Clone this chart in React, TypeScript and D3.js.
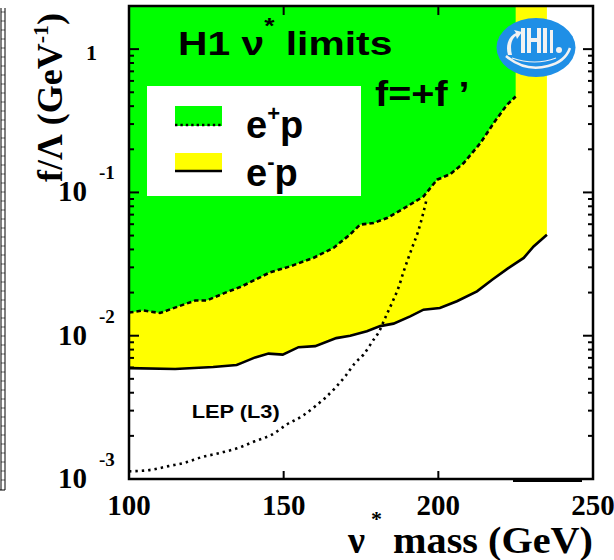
import React from "react";
import * as d3 from "d3";

// ---------- data ----------
const ePlusMass = [100, 104.6, 110, 115.9, 121.4, 125.1, 131, 136.5, 140.8, 145.6, 152.1, 159.6, 166.1, 171.4, 174.7, 179.1, 183.4, 189.9, 195.2, 199.6, 203.9, 208.2, 213.6, 217.9, 222.2, 225];
const ePlusLimit = [0.0145, 0.015, 0.0144, 0.016, 0.0176, 0.0176, 0.0199, 0.0221, 0.0246, 0.0277, 0.0305, 0.0349, 0.041, 0.0507, 0.0596, 0.0612, 0.0663, 0.0798, 0.0937, 0.1227, 0.1344, 0.1602, 0.221, 0.305, 0.409, 0.467];

const eMinusMass = [100, 114.9, 127.2, 134.8, 136.5, 140.8, 145.1, 149.7, 154.8, 160.2, 167, 171.5, 176.9, 181.2, 185.5, 190.9, 195.2, 200.5, 206, 212.5, 217.4, 222.5, 227.6, 230.8, 235.1];
const eMinusLimit = [0.00594, 0.00586, 0.00605, 0.00624, 0.00646, 0.00706, 0.0075, 0.00738, 0.00832, 0.00846, 0.00962, 0.01, 0.01074, 0.01167, 0.01214, 0.01365, 0.0152, 0.0156, 0.0174, 0.0204, 0.0246, 0.0295, 0.0349, 0.042, 0.0507];

const lepMass = [100, 107.3, 112.7, 118.1, 123.5, 129.4, 135.4, 140.8, 146.2, 151, 155.9, 160.2, 163.4, 166.7, 169.9, 173.1, 175.8, 179.1, 180.6, 182.8, 185, 187.1, 188.8, 191.5, 193.4, 195, 196.3];
const lepLimit = [0.00113, 0.00116, 0.00123, 0.0013, 0.00142, 0.00152, 0.00165, 0.00184, 0.00204, 0.0024, 0.00274, 0.00322, 0.00368, 0.00433, 0.00521, 0.00646, 0.00738, 0.0094, 0.01045, 0.0133, 0.0169, 0.0216, 0.0281, 0.041, 0.053, 0.07, 0.0914];

const xTicks = [100, 150, 200, 250];
const yMajorTicks = [0.001, 0.01, 0.1, 1];
const yTickExps = ["-3", "-2", "-1"];

const GREEN = "#00ff00";
const YELLOW = "#ffff00";
const SANS = "'Liberation Sans', Arial, sans-serif";
const SERIF = "'Liberation Serif', 'Times New Roman', serif";

export default function App() {
  const W = 614, H = 560;
  const x = d3.scaleLinear().domain([100, 250]).range([129, 593]);
  const y = d3.scaleLog().domain([1e-3, 2]).range([479, 6]);

  const ep = ePlusMass.map((m, i) => [m, ePlusLimit[i]] as [number, number]);
  const em = eMinusMass.map((m, i) => [m, eMinusLimit[i]] as [number, number]);
  const lep = lepMass.map((m, i) => [m, lepLimit[i]] as [number, number]);

  const area = d3.area<[number, number]>().x(d => x(d[0])).y0(y(2)).y1(d => y(d[1]));
  const line = d3.line<[number, number]>().x(d => x(d[0])).y(d => y(d[1]));
  const smooth = d3.line<[number, number]>().x(d => x(d[0])).y(d => y(d[1])).curve(d3.curveMonotoneX);

  const minorY = y.ticks(40).filter(v => !yMajorTicks.some(t => Math.abs(t - v) / t < 1e-6));

  const x0 = x(100), x1 = x(250), yT = y(2), yB = y(1e-3);

  return (
    <svg width={W} height={H} style={{ position: "absolute", left: 0, top: 0, background: "#fff" }} xmlns="http://www.w3.org/2000/svg">
      <defs>
        <clipPath id="plot">
          <rect x={x0} y={yT} width={x1 - x0} height={yB - yT} />
        </clipPath>
      </defs>

      {/* neighbour figure remnant at far left */}
      <g stroke="#000" strokeWidth={1}>
        <line x1={1} y1={8} x2={1} y2={490} />
        <line x1={5} y1={8} x2={5} y2={490} />
        <line x1={0} y1={490} x2={5} y2={490} />
        {d3.range(12, 488, 9).map((v, i) => (
          <line key={i} x1={1} y1={v} x2={5} y2={v} strokeWidth={0.6} />
        ))}
      </g>

      <g clipPath="url(#plot)">
        <path d={area(em) || ""} fill={YELLOW} />
        <path d={area(ep) || ""} fill={GREEN} />
        <path d={smooth(lep) || ""} fill="none" stroke="#000" strokeWidth={2.6} strokeDasharray="2.4,4" />
        <path d={line(ep) || ""} fill="none" stroke="#000" strokeWidth={2.6} strokeDasharray="4.5,3" />
        <path d={line(em) || ""} fill="none" stroke="#000" strokeWidth={2.6} />
      </g>

      {/* legend */}
      <rect x={147} y={86} width={214} height={110} fill="#fff" />
      <rect x={175} y={106} width={47} height={20} fill={GREEN} />
      <line x1={175} x2={222} y1={125} y2={125} stroke="#000" strokeWidth={2.4} strokeDasharray="2.4,3" />
      <rect x={175} y={153} width={47} height={18} fill={YELLOW} />
      <line x1={175} x2={222} y1={171} y2={171} stroke="#000" strokeWidth={2.4} />
      <text x={246} y={138} fontFamily={SANS} fontWeight="bold" fontSize={38}>
        e<tspan fontSize={22} dy={-17}>+</tspan><tspan dy={17}>p</tspan>
      </text>
      <text x={246} y={186} fontFamily={SANS} fontWeight="bold" fontSize={38}>
        e<tspan fontSize={22} dy={-17}>-</tspan><tspan dy={17}>p</tspan>
      </text>

      {/* title */}
      <g transform="translate(178,55) scale(1.2,1)">
        <text x={0} y={0} fontFamily={SANS} fontWeight="bold" fontSize={34}>
          H1 ν<tspan fontSize={22} dy={-22}>*</tspan><tspan dy={22}> limits</tspan>
        </text>
      </g>
      <g transform="translate(375,106) scale(1.1,1)">
        <text x={0} y={0} fontFamily={SANS} fontWeight="bold" fontSize={36}>f=+f ’</text>
      </g>
      <text x={191.7} y={418} fontFamily={SANS} fontWeight="bold" fontSize={19} textLength={88} lengthAdjust="spacingAndGlyphs">LEP (L3)</text>

      {/* H1 logo */}
      <g>
        <ellipse cx={536} cy={47.5} rx={39.5} ry={29.5} fill="#1f8fe6" />
        <g fill="#f2f2f2">
          <rect x={521} y={28} width={4} height={25} />
          <rect x={527} y={28} width={4} height={25} />
          <rect x={531} y={38} width={6} height={4} />
          <rect x={537} y={28} width={4} height={25} />
          <rect x={543} y={28} width={4} height={25} />
          <rect x={550} y={30} width={3} height={23} />
          <circle cx={559} cy={50} r={3} />
        </g>
        <path d="M508,55 C505,45 509,36 516,33 L514,30 L522,32 L517,39 L516,36 C511,39 510,47 512,55 Z" fill="#f2f2f2" />
        <path d="M506,56 Q525,72 548,66 Q565,62 570,48" fill="none" stroke="#f2f2f2" strokeWidth={2.5} />
        <path d="M512,58 Q535,66 556,58" fill="none" stroke="#f2f2f2" strokeWidth={1.2} />
      </g>

      {/* frame */}
      <rect x={x0} y={yT} width={x1 - x0} height={yB - yT} fill="none" stroke="#000" strokeWidth={2.5} />
      <line x1={513} x2={582} y1={480.5} y2={480.5} stroke="#000" strokeWidth={3} />

      {/* y ticks */}
      {yMajorTicks.map((t, i) => (
        <g key={"ym" + i}>
          <line x1={x0} x2={x0 + 10} y1={y(t)} y2={y(t)} stroke="#000" strokeWidth={2} />
          <line x1={x1} x2={x1 - 10} y1={y(t)} y2={y(t)} stroke="#000" strokeWidth={2} />
        </g>
      ))}
      {minorY.map((t, i) => (
        <g key={"yn" + i}>
          <line x1={x0} x2={x0 + 5} y1={y(t)} y2={y(t)} stroke="#000" strokeWidth={2} />
          <line x1={x1} x2={x1 - 5} y1={y(t)} y2={y(t)} stroke="#000" strokeWidth={2} />
        </g>
      ))}

      {/* x ticks */}
      {xTicks.slice(1, 3).map((t, i) => (
        <g key={"xt" + i}>
          <line x1={x(t)} x2={x(t)} y1={yB} y2={yB - 8} stroke="#000" strokeWidth={2} />
          <line x1={x(t)} x2={x(t)} y1={yT} y2={yT + 9} stroke="#000" strokeWidth={2} />
        </g>
      ))}

      {/* x tick labels */}
      {xTicks.map((t, i) => (
        <text key={"xl" + i} x={x(t)} y={515} textAnchor="middle" fontFamily={SERIF} fontWeight="bold" fontSize={29}>
          {t}
        </text>
      ))}

      {/* y tick labels */}
      <text x={97} y={60} textAnchor="end" fontFamily={SERIF} fontWeight="bold" fontSize={22}>1</text>
      {yMajorTicks.slice(0, 3).map((t, i) => (
        <g key={"yl" + i}>
          <text x={87} y={y(t) + 9} textAnchor="end" fontFamily={SERIF} fontWeight="bold" fontSize={29}>10</text>
          <text x={99} y={y(t) - 13} fontFamily={SERIF} fontWeight="bold" fontSize={19}>{yTickExps[i]}</text>
        </g>
      ))}

      {/* axis titles */}
      <text x={348} y={553} fontFamily={SERIF} fontWeight="bold" fontSize={38}>ν</text>
      <text x={371} y={526} fontFamily={SERIF} fontWeight="bold" fontSize={22}>*</text>
      <text x={393} y={553} fontFamily={SERIF} fontWeight="bold" fontSize={38} textLength={200} lengthAdjust="spacingAndGlyphs">mass (GeV)</text>

      <g transform="translate(62,182) rotate(-90)">
        <text x={0} y={0} fontFamily={SERIF} fontWeight="bold" fontSize={36}>
          f/Λ (GeV<tspan fontSize={22} dy={-14}>-1</tspan><tspan dy={14}>)</tspan>
        </text>
      </g>
    </svg>
  );
}
